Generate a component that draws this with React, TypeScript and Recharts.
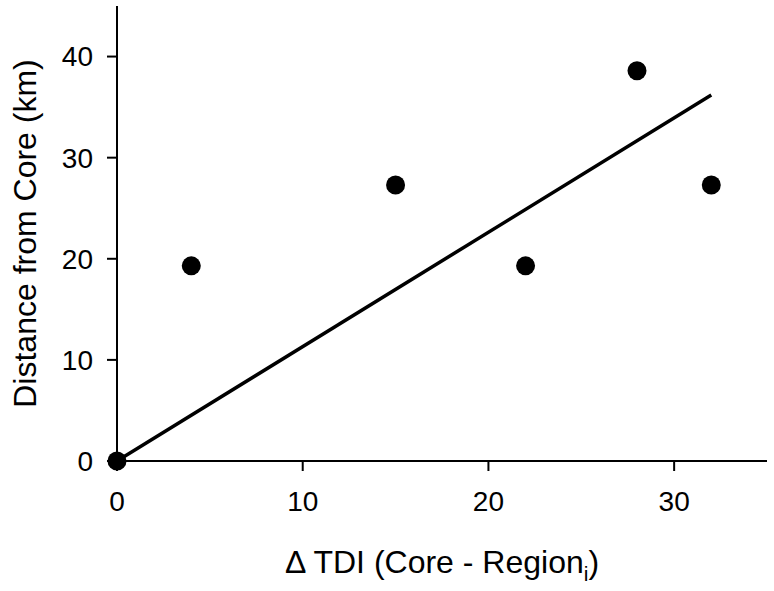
import { ScatterChart, Scatter, XAxis, YAxis, Label } from 'recharts';

// observed points: delta TDI vs distance from core
const tdiValues = [0, 4, 15, 22, 28, 32];
const distanceValues = [0, 19.3, 27.3, 19.3, 38.6, 27.3];

// fitted line end points (regression through origin)
const fitX = [0, 32];
const fitY = [0, 36.2];

const xTicks = [0, 10, 20, 30];
const yTicks = [0, 10, 20, 30, 40];

const points = tdiValues.map((x, i) => ({ x, y: distanceValues[i] }));
const fitLine = fitX.map((x, i) => ({ x, y: fitY[i] }));

const FONT = 'Arial, "Liberation Sans", sans-serif';

const Dot = (props: any) => <circle cx={props.cx} cy={props.cy} r={9.5} fill="#000" />;

const YTitle = (props: any) => {
    const vb = props.viewBox;
    return (
        <g transform={`translate(36, ${vb.y + vb.height / 2}) rotate(-90)`}>
            <text x={0} y={0} textAnchor="middle" fontSize={32} fontFamily={FONT} fill="#000">
                Distance from Core (km)
            </text>
        </g>
    );
};

const XTitle = (props: any) => {
    const vb = props.viewBox;
    return (
        <text x={vb.x + vb.width / 2} y={573} textAnchor="middle" fontSize={32} fontFamily={FONT} fill="#000">
            Δ TDI (Core - Region
            <tspan fontSize={21} dy={8}>i</tspan>
            <tspan dy={-8}>)</tspan>
        </text>
    );
};

export default function App() {
    return (
        <div style={{ position: 'absolute', left: 0, top: 0, background: '#fff' }}>
            <ScatterChart width={774} height={591} margin={{ top: 6, right: 7, left: 0, bottom: 0 }}>
                <XAxis
                    type="number"
                    dataKey="x"
                    domain={[0, 35]}
                    ticks={xTicks}
                    height={130}
                    stroke="#000"
                    strokeWidth={2}
                    tickSize={10}
                    tickMargin={20}
                    tick={{ fill: '#000', fontSize: 28, fontFamily: FONT }}
                    tickLine={{ stroke: '#000', strokeWidth: 2 }}
                >
                    <Label content={<XTitle />} />
                </XAxis>
                <YAxis
                    type="number"
                    dataKey="y"
                    domain={[0, 45]}
                    ticks={yTicks}
                    width={117}
                    stroke="#000"
                    strokeWidth={2}
                    tickSize={10}
                    tickMargin={14}
                    tick={{ fill: '#000', fontSize: 28, fontFamily: FONT }}
                    tickLine={{ stroke: '#000', strokeWidth: 2 }}
                >
                    <Label content={<YTitle />} />
                </YAxis>
                <Scatter
                    data={fitLine}
                    line={{ stroke: '#000', strokeWidth: 3.5 }}
                    shape={() => <g />}
                    isAnimationActive={false}
                />
                <Scatter data={points} shape={<Dot />} isAnimationActive={false} />
            </ScatterChart>
        </div>
    );
}
